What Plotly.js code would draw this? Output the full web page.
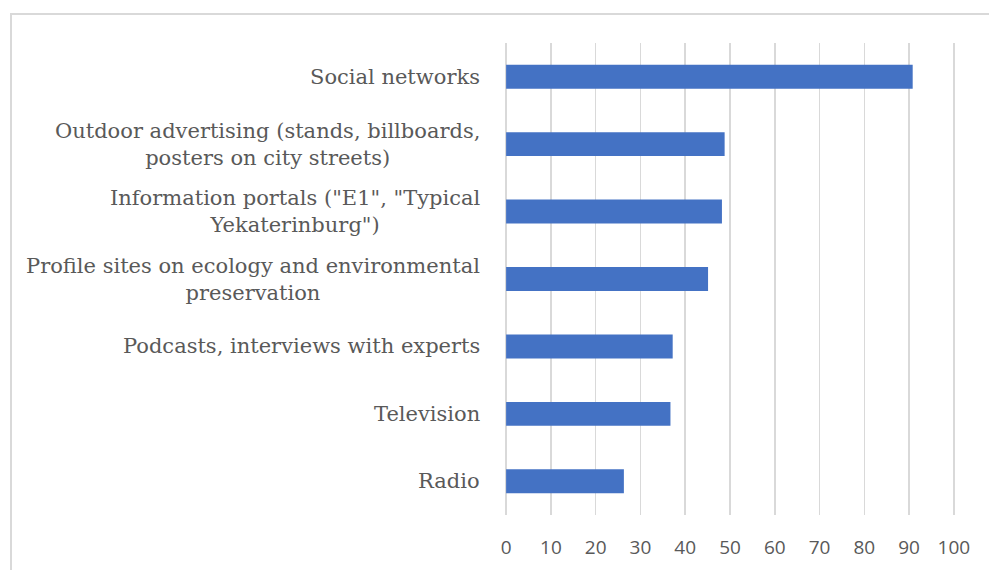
<!DOCTYPE html>
<html>
<head>
<meta charset="utf-8">
<script src="https://cdn.plot.ly/plotly-3.0.1.min.js"></script>
<style>
  html, body { margin: 0; padding: 0; background: #fff; }
  #wrap { position: relative; width: 989px; height: 570px; overflow: hidden; }
  #chart { width: 989px; height: 570px; }
  #frame { position: absolute; left: 10px; top: 13px; width: 1000px; height: 600px;
           border: 2px solid #d9d9d9; pointer-events: none; box-sizing: border-box; }
</style>
</head>
<body>
<div id="wrap">
  <div id="chart"></div>
  <div id="frame"></div>
</div>
<script>
// Data (top to bottom as displayed)
const categories = [
  "Social networks",
  "Outdoor advertising (stands, billboards,<br>posters on city streets)",
  "Information portals (\"E1\", \"Typical<br>Yekaterinburg\")",
  "Profile sites on ecology and environmental<br>preservation",
  "Podcasts, interviews with experts",
  "Television",
  "Radio"
];
const values = [90.8, 48.8, 48.2, 45.1, 37.2, 36.7, 26.3];
const tickValues = [0, 10, 20, 30, 40, 50, 60, 70, 80, 90, 100];

const catKeys = categories.map((c, i) => "c" + i);

const trace = {
  type: "bar",
  orientation: "h",
  x: values,
  y: catKeys,
  marker: { color: "#4472C4" },
  hoverinfo: "skip"
};

const annotations = categories.map((c, i) => ({
  xref: "paper", yref: "y",
  x: 0, y: catKeys[i],
  xanchor: "right", yanchor: "middle",
  xshift: -23,
  align: "center",
  showarrow: false,
  text: c,
  font: { family: "DejaVu Serif", size: 21, color: "#595959" }
}));

const layout = {
  width: 989, height: 570,
  margin: { l: 505, r: 34, t: 43, b: 55, pad: 0 },
  paper_bgcolor: "#ffffff",
  plot_bgcolor: "#ffffff",
  showlegend: false,
  bargap: 0.645,
  xaxis: {
    range: [-0.25, 100.25],
    tickvals: tickValues,
    ticktext: tickValues.map(String),
    showgrid: true,
    gridcolor: "#d9d9d9",
    gridwidth: 1.5,
    zeroline: false,
    showline: false,
    ticks: "",
    ticklabelstandoff: 19,
    tickfont: { family: "Open Sans", size: 19, color: "#595959" },
    fixedrange: true
  },
  yaxis: {
    type: "category",
    categoryorder: "array",
    categoryarray: catKeys,
    autorange: "reversed",
    showticklabels: false,
    showgrid: false,
    zeroline: false,
    showline: false,
    ticks: "",
    fixedrange: true
  },
  annotations: annotations
};

Plotly.newPlot("chart", [trace], layout, { displayModeBar: false, staticPlot: true });
</script>
</body>
</html>
